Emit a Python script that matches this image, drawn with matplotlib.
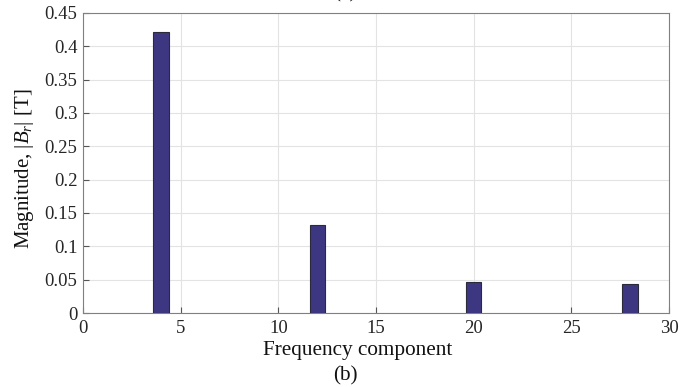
import matplotlib
matplotlib.use("Agg")
import matplotlib.pyplot as plt

# Harmonic content of the radial flux density
harmonics = [4, 12, 20, 28]
magnitudes = [0.4215, 0.132, 0.0465, 0.0435]
x_ticks = [0, 5, 10, 15, 20, 25, 30]
y_ticks = [0, 0.05, 0.1, 0.15, 0.2, 0.25, 0.3, 0.35, 0.4, 0.45]
y_tick_labels = ["0", "0.05", "0.1", "0.15", "0.2", "0.25", "0.3", "0.35", "0.4", "0.45"]
x_tick_labels = ["0", "5", "10", "15", "20", "25", "30"]

plt.rcParams["font.family"] = ["Liberation Serif", "DejaVu Serif"]
plt.rcParams["mathtext.fontset"] = "custom"
plt.rcParams["mathtext.rm"] = "Liberation Serif"
plt.rcParams["mathtext.it"] = "Liberation Serif:italic"

fig = plt.figure(figsize=(6.93, 3.87), dpi=100)
ax = fig.add_axes([83 / 693, 74 / 387, 586 / 693, 300 / 387])

ax.bar(harmonics, magnitudes, width=0.8, color="#3d3782", edgecolor="#2a2a3a",
       linewidth=0.8, zorder=3)

ax.set_xlim(0, 30)
ax.set_ylim(0, 0.45)
ax.set_xticks(x_ticks)
ax.set_xticklabels(x_tick_labels)
ax.set_yticks(y_ticks)
ax.set_yticklabels(y_tick_labels)
ax.grid(True, color="#e3e3e3", linewidth=0.8, zorder=0)
ax.tick_params(direction="in", length=4, color="#555555", labelsize=13.5,
               labelcolor="#262626", top=False, right=False)
ax.tick_params(axis="x", pad=5)
ax.tick_params(axis="y", pad=4)
for s in ax.spines.values():
    s.set_color("#808080")
    s.set_linewidth(0.8)

fig.text(25 / 693, 1 - 169 / 387, r"Magnitude, $|B_r|$ [T]", rotation=90,
         ha="center", va="center", fontsize=15, color="#111111")
fig.text(358 / 693, 1 - 351 / 387, "Frequency component", ha="center",
         va="center", fontsize=15.3, color="#111111")
fig.text(345 / 693, 1 - 376 / 387, "(b)", ha="center", va="center",
         fontsize=15.3, color="#111111")
fig.text(345 / 693, 1 - 2 / 387, "(a)", ha="center", va="bottom",
         fontsize=15.3, color="#111111")

fig.savefig("out.png", dpi=100)
